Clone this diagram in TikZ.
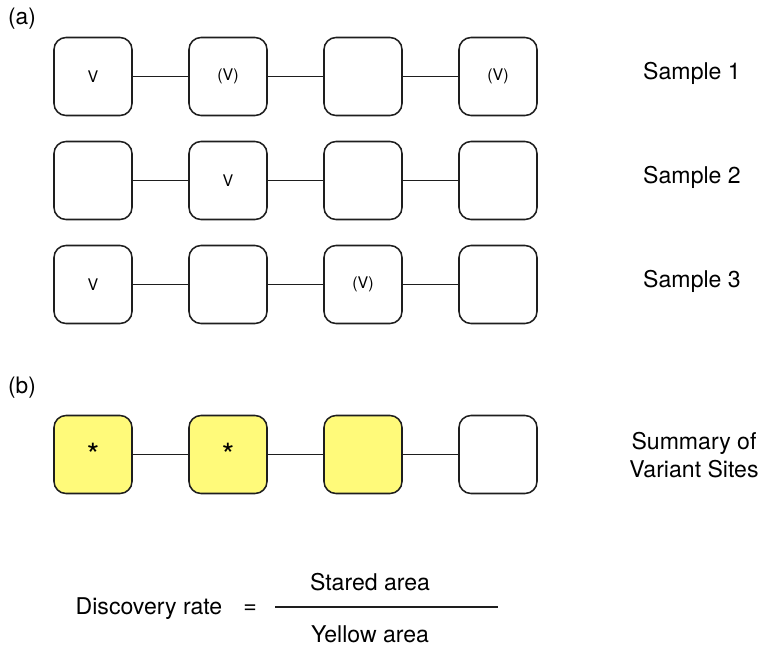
\documentclass[tikz,border=0pt]{standalone}
\usepackage{fontspec}
\setmainfont{TeX Gyre Heros}
\definecolor{siteyellow}{RGB}{255,250,122}
\definecolor{edge}{RGB}{30,30,30}
\begin{document}
\begin{tikzpicture}[x=0.75pt,y=-0.75pt,
  site/.style={draw=edge,line width=1.15pt,rounded corners=9pt,fill=white,
    minimum width=58.5pt,minimum height=58.5pt,inner sep=0pt,font=\fontsize{12}{14}\selectfont},
  hit/.style={site,fill=siteyellow,font=\fontsize{24}{26}\selectfont},
  link/.style={draw=edge,line width=1.15pt},
  lab/.style={font=\fontsize{17.3}{20.5}\selectfont,align=center},
  tag/.style={font=\fontsize{17}{20}\selectfont}]
\useasboundingbox (0,0) rectangle (760,647);

% panel labels
\node[tag] (pa) at (22,19) {(a)};
\node[tag] (pb) at (22,388) {(b)};

% three samples, four sites each
\foreach \r/\y/\ta/\tb/\tc/\td in {1/76.5/V/(V)//(V), 2/180.5//V//, 3/284.5/V//(V)/}{
  \node[site] (s\r a) at (93,\y) {\ta};
  \node[site] (s\r b) at (228,\y) {\tb};
  \node[site] (s\r c) at (363,\y) {\tc};
  \node[site] (s\r d) at (498,\y) {\td};
  \draw[link] (s\r a) -- (s\r b);
  \draw[link] (s\r b) -- (s\r c);
  \draw[link] (s\r c) -- (s\r d);
  \node[lab] (name\r) at (692,\y-3) {Sample \r};
}

% summary row
\node[hit] (ma) at (93,454.5) {*};
\node[hit] (mb) at (228,454.5) {*};
\node[hit] (mc) at (363,454.5) {};
\node[site] (md) at (498,454.5) {};
\draw[link] (ma) -- (mb);
\draw[link] (mb) -- (mc);
\draw[link] (mc) -- (md);
\node[lab] (summary) at (694,455) {Summary of\\Variant Sites};

% discovery rate formula
\node[lab] (rate) at (149,609) {Discovery rate};
\node[lab] (eq) at (250,609) {=};
\coordinate (barl) at (275,607);
\coordinate (barr) at (498,607);
\draw[link] (barl) -- (barr);
\node[lab] (num) at (370,582) {Stared area};
\node[lab] (den) at (370,634) {Yellow area};
\end{tikzpicture}
\end{document}
